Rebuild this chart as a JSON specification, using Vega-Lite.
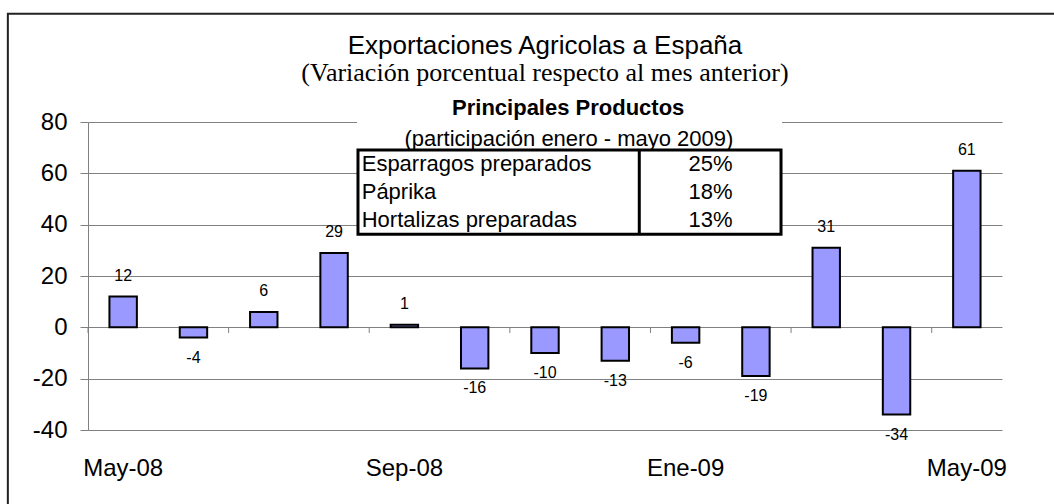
{
  "$schema": "https://vega.github.io/schema/vega-lite/v6.json",
  "width": 914,
  "height": 308,
  "autosize": {"type": "none"},
  "padding": {"left": 88, "top": 122, "right": 52, "bottom": 74},
  "background": "white",
  "config": {"font": "Liberation Sans", "view": {"stroke": null}},
  "title": {
    "text": "Exportaciones Agricolas a España",
    "subtitle": "(Variación porcentual respecto al mes anterior)",
    "anchor": "middle",
    "font": "Liberation Sans",
    "fontSize": 26,
    "fontWeight": "normal",
    "color": "black",
    "subtitleFont": "Liberation Serif",
    "subtitleFontSize": 26,
    "subtitleColor": "black",
    "subtitlePadding": 1,
    "offset": -73
  },
  "datasets": {
    "exportaciones": [
      {"mes": "May-08", "valor": 12},
      {"mes": "Jun-08", "valor": -4},
      {"mes": "Jul-08", "valor": 6},
      {"mes": "Ago-08", "valor": 29},
      {"mes": "Sep-08", "valor": 1},
      {"mes": "Oct-08", "valor": -16},
      {"mes": "Nov-08", "valor": -10},
      {"mes": "Dic-08", "valor": -13},
      {"mes": "Ene-09", "valor": -6},
      {"mes": "Feb-09", "valor": -19},
      {"mes": "Mar-09", "valor": 31},
      {"mes": "Abr-09", "valor": -34},
      {"mes": "May-09", "valor": 61}
    ],
    "productos": [
      {"producto": "Esparragos preparados", "participacion": "25%"},
      {"producto": "Páprika", "participacion": "18%"},
      {"producto": "Hortalizas preparadas", "participacion": "13%"}
    ]
  },
  "resolve": {"scale": {"x": "independent", "y": "independent"}},
  "layer": [
    {
      "data": {"values": [{}]},
      "mark": {"type": "rect", "fill": "transparent", "stroke": "#222222", "strokeWidth": 2},
      "encoding": {
        "x": {"datum": -1.14, "type": "quantitative", "scale": {"domain": [0, 13], "nice": false, "zero": false}, "axis": null},
        "x2": {"datum": 14},
        "y": {"datum": 122.2, "type": "quantitative", "scale": {"domain": [-40, 80], "nice": false, "zero": false}, "axis": null},
        "y2": {"datum": -75}
      }
    },
    {
      "data": {"name": "exportaciones"},
      "mark": {"type": "bar", "fill": "#9999FF", "stroke": "black", "strokeWidth": 2, "width": {"band": 0.39}},
      "encoding": {
        "x": {
          "field": "mes", "type": "ordinal", "sort": null,
          "scale": {"domain": ["May-08","Jun-08","Jul-08","Ago-08","Sep-08","Oct-08","Nov-08","Dic-08","Ene-09","Feb-09","Mar-09","Abr-09","May-09"], "paddingInner": 0, "paddingOuter": 0},
          "axis": {"values": ["May-08", "Sep-08", "Ene-09", "May-09"], "ticks": false, "domain": false, "grid": false, "labelAngle": 0, "labelFontSize": 24, "labelColor": "black", "labelPadding": 26, "title": null}
        },
        "y": {
          "field": "valor", "type": "quantitative",
          "scale": {"domain": [-40, 80], "nice": false},
          "axis": {"values": [-40, -20, 0, 20, 40, 60, 80], "labelExpr": "datum.value + ''", "grid": true, "gridColor": "#808080", "gridOpacity": 1, "domainColor": "#808080", "tickColor": "#808080", "tickSize": 8, "labelFontSize": 24, "labelColor": "black", "labelPadding": 13, "title": null}
        },
        "y2": {"datum": 0}
      }
    },
    {
      "data": {"name": "exportaciones"},
      "transform": [{"filter": {"field": "mes", "oneOf": ["May-08", "Jul-08", "Sep-08", "Nov-08", "Ene-09", "Mar-09", "May-09"]}}],
      "mark": {"type": "rule", "color": "#808080", "strokeWidth": 1},
      "encoding": {
        "x": {
          "field": "mes", "type": "ordinal", "sort": null, "bandPosition": 0,
          "scale": {"domain": ["May-08","Jun-08","Jul-08","Ago-08","Sep-08","Oct-08","Nov-08","Dic-08","Ene-09","Feb-09","Mar-09","Abr-09","May-09"], "paddingInner": 0, "paddingOuter": 0},
          "axis": null
        },
        "y": {"datum": 0, "type": "quantitative", "scale": {"domain": [-40, 80], "nice": false, "zero": false}, "axis": null},
        "y2": {"datum": -2.2}
      }
    },
    {
      "data": {"name": "exportaciones"},
      "transform": [{"filter": "datum.valor >= 0"}],
      "mark": {"type": "text", "fontSize": 16, "color": "black", "baseline": "middle", "dy": -21},
      "encoding": {
        "x": {
          "field": "mes", "type": "ordinal", "sort": null,
          "scale": {"domain": ["May-08","Jun-08","Jul-08","Ago-08","Sep-08","Oct-08","Nov-08","Dic-08","Ene-09","Feb-09","Mar-09","Abr-09","May-09"], "paddingInner": 0, "paddingOuter": 0},
          "axis": null
        },
        "y": {"field": "valor", "type": "quantitative", "scale": {"domain": [-40, 80], "nice": false, "zero": false}, "axis": null},
        "text": {"field": "valor", "type": "nominal"}
      }
    },
    {
      "data": {"name": "exportaciones"},
      "transform": [{"filter": "datum.valor < 0"}],
      "mark": {"type": "text", "fontSize": 16, "color": "black", "baseline": "middle", "dy": 20},
      "encoding": {
        "x": {
          "field": "mes", "type": "ordinal", "sort": null,
          "scale": {"domain": ["May-08","Jun-08","Jul-08","Ago-08","Sep-08","Oct-08","Nov-08","Dic-08","Ene-09","Feb-09","Mar-09","Abr-09","May-09"], "paddingInner": 0, "paddingOuter": 0},
          "axis": null
        },
        "y": {"field": "valor", "type": "quantitative", "scale": {"domain": [-40, 80], "nice": false, "zero": false}, "axis": null},
        "text": {"field": "valor", "type": "nominal"}
      }
    },
    {
      "data": {"values": [{}]},
      "mark": {"type": "rect", "fill": "white", "strokeWidth": 0},
      "encoding": {
        "x": {"datum": 3.826, "type": "quantitative", "scale": {"domain": [0, 13], "nice": false, "zero": false}, "axis": null},
        "x2": {"datum": 9.871},
        "y": {"datum": 88.7, "type": "quantitative", "scale": {"domain": [-40, 80], "nice": false, "zero": false}, "axis": null},
        "y2": {"datum": 69.1}
      }
    },
    {
      "data": {"values": [{}]},
      "mark": {"type": "rect", "fill": "white", "stroke": "black", "strokeWidth": 3},
      "encoding": {
        "x": {"datum": 3.84, "type": "quantitative", "scale": {"domain": [0, 13], "nice": false, "zero": false}, "axis": null},
        "x2": {"datum": 9.857},
        "y": {"datum": 69.1, "type": "quantitative", "scale": {"domain": [-40, 80], "nice": false, "zero": false}, "axis": null},
        "y2": {"datum": 36.3}
      }
    },
    {
      "data": {"values": [{}]},
      "mark": {"type": "rule", "color": "black", "strokeWidth": 3},
      "encoding": {
        "x": {"datum": 7.841, "type": "quantitative", "scale": {"domain": [0, 13], "nice": false, "zero": false}, "axis": null},
        "y": {"datum": 69.1, "type": "quantitative", "scale": {"domain": [-40, 80], "nice": false, "zero": false}, "axis": null},
        "y2": {"datum": 36.3}
      }
    },
    {
      "data": {"values": [{}]},
      "mark": {"type": "text", "text": "Principales Productos", "fontSize": 22, "fontWeight": "bold", "color": "black", "baseline": "alphabetic", "align": "center"},
      "encoding": {
        "x": {"datum": 6.83, "type": "quantitative", "scale": {"domain": [0, 13], "nice": false, "zero": false}, "axis": null},
        "y": {"datum": 82.9, "type": "quantitative", "scale": {"domain": [-40, 80], "nice": false, "zero": false}, "axis": null}
      }
    },
    {
      "data": {"values": [{}]},
      "mark": {"type": "text", "text": "(participación enero - mayo 2009)", "fontSize": 22, "color": "black", "baseline": "alphabetic", "align": "center"},
      "encoding": {
        "x": {"datum": 6.84, "type": "quantitative", "scale": {"domain": [0, 13], "nice": false, "zero": false}, "axis": null},
        "y": {"datum": 70.8, "type": "quantitative", "scale": {"domain": [-40, 80], "nice": false, "zero": false}, "axis": null}
      }
    },
    {
      "data": {"name": "productos"},
      "transform": [{"filter": {"field": "producto", "equal": "Esparragos preparados"}}],
      "mark": {"type": "text", "fontSize": 22, "color": "black", "baseline": "alphabetic", "align": "left"},
      "encoding": {
        "x": {"datum": 3.893, "type": "quantitative", "scale": {"domain": [0, 13], "nice": false, "zero": false}, "axis": null},
        "y": {"datum": 60.85, "type": "quantitative", "scale": {"domain": [-40, 80], "nice": false, "zero": false}, "axis": null},
        "text": {"field": "producto"}
      }
    },
    {
      "data": {"name": "productos"},
      "transform": [{"filter": {"field": "producto", "equal": "Esparragos preparados"}}],
      "mark": {"type": "text", "fontSize": 22, "color": "black", "baseline": "alphabetic", "align": "center"},
      "encoding": {
        "x": {"datum": 8.854, "type": "quantitative", "scale": {"domain": [0, 13], "nice": false, "zero": false}, "axis": null},
        "y": {"datum": 60.85, "type": "quantitative", "scale": {"domain": [-40, 80], "nice": false, "zero": false}, "axis": null},
        "text": {"field": "participacion"}
      }
    },
    {
      "data": {"name": "productos"},
      "transform": [{"filter": {"field": "producto", "equal": "Páprika"}}],
      "mark": {"type": "text", "fontSize": 22, "color": "black", "baseline": "alphabetic", "align": "left"},
      "encoding": {
        "x": {"datum": 3.893, "type": "quantitative", "scale": {"domain": [0, 13], "nice": false, "zero": false}, "axis": null},
        "y": {"datum": 49.94, "type": "quantitative", "scale": {"domain": [-40, 80], "nice": false, "zero": false}, "axis": null},
        "text": {"field": "producto"}
      }
    },
    {
      "data": {"name": "productos"},
      "transform": [{"filter": {"field": "producto", "equal": "Páprika"}}],
      "mark": {"type": "text", "fontSize": 22, "color": "black", "baseline": "alphabetic", "align": "center"},
      "encoding": {
        "x": {"datum": 8.854, "type": "quantitative", "scale": {"domain": [0, 13], "nice": false, "zero": false}, "axis": null},
        "y": {"datum": 49.94, "type": "quantitative", "scale": {"domain": [-40, 80], "nice": false, "zero": false}, "axis": null},
        "text": {"field": "participacion"}
      }
    },
    {
      "data": {"name": "productos"},
      "transform": [{"filter": {"field": "producto", "equal": "Hortalizas preparadas"}}],
      "mark": {"type": "text", "fontSize": 22, "color": "black", "baseline": "alphabetic", "align": "left"},
      "encoding": {
        "x": {"datum": 3.893, "type": "quantitative", "scale": {"domain": [0, 13], "nice": false, "zero": false}, "axis": null},
        "y": {"datum": 39.03, "type": "quantitative", "scale": {"domain": [-40, 80], "nice": false, "zero": false}, "axis": null},
        "text": {"field": "producto"}
      }
    },
    {
      "data": {"name": "productos"},
      "transform": [{"filter": {"field": "producto", "equal": "Hortalizas preparadas"}}],
      "mark": {"type": "text", "fontSize": 22, "color": "black", "baseline": "alphabetic", "align": "center"},
      "encoding": {
        "x": {"datum": 8.854, "type": "quantitative", "scale": {"domain": [0, 13], "nice": false, "zero": false}, "axis": null},
        "y": {"datum": 39.03, "type": "quantitative", "scale": {"domain": [-40, 80], "nice": false, "zero": false}, "axis": null},
        "text": {"field": "participacion"}
      }
    }
  ]
}
